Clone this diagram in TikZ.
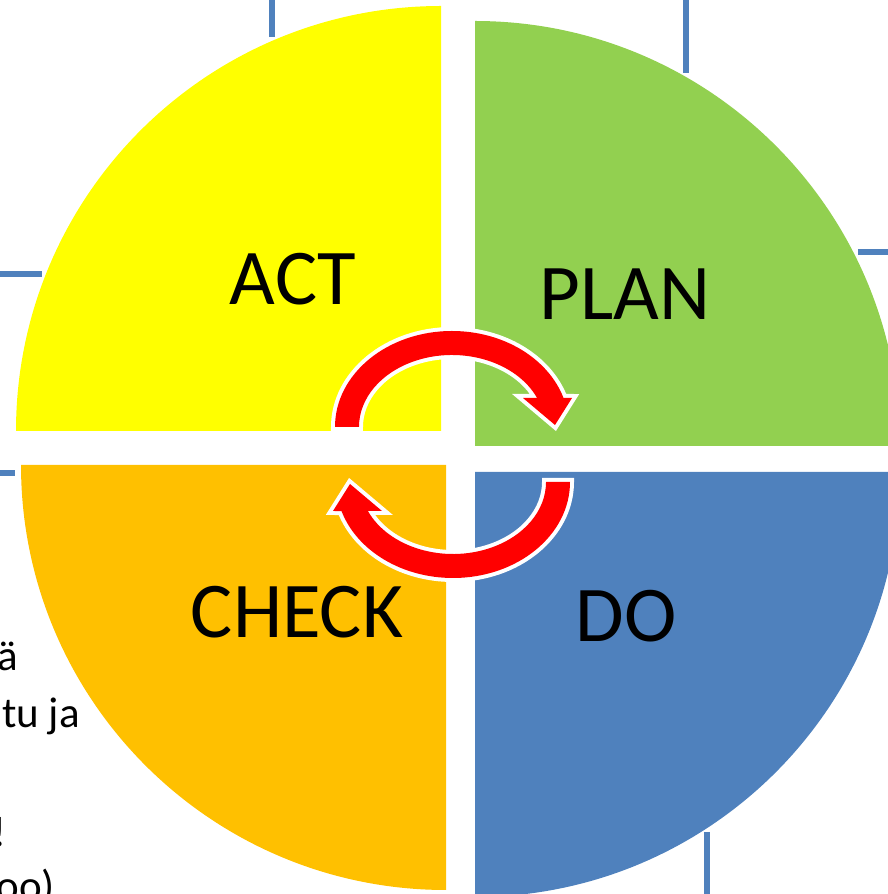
\documentclass[tikz,border=0pt]{standalone}
\usepackage{fontspec}
\setmainfont{Carlito}
\definecolor{actyellow}{HTML}{FFFF00}
\definecolor{plangreen}{HTML}{92D050}
\definecolor{checkorange}{HTML}{FFC000}
\definecolor{doblue}{HTML}{4F81BD}
\definecolor{gridblue}{HTML}{4F81BD}
\newcommand\pdcaArrowPath{(335,467) arc[start angle=180,end angle=17.6,x radius=117pt,y radius=96pt] -- (572,496) -- (555,469) -- (523,496) -- (537.1,496) arc[start angle=23.75,end angle=180,x radius=93pt,y radius=72pt] -- cycle}
\begin{document}
\begin{tikzpicture}[x=1pt,y=1pt,
  gridline/.style={draw=gridblue,line width=5.5pt},
  bigword/.style={font=\fontsize{79}{90}\selectfont, inner sep=0pt, anchor=base, text=black},
  sideword/.style={font=\fontsize{43}{50}\selectfont, inner sep=0pt, anchor=base east, text=black},
  cyclearrow/.style={fill=red, preaction={draw=white,line width=8pt,line join=miter}}]
\useasboundingbox (0,0) rectangle (888,894);
\clip (0,0) rectangle (888,894);
% background grid fragments
\draw[gridline] (272,894) -- (272,857);
\draw[gridline] (686,894) -- (686,821);
\draw[gridline] (0,620) -- (42,620);
\draw[gridline] (0,421) -- (15,421);
\draw[gridline] (858,642) -- (888,642);
\draw[gridline] (707,62) -- (707,0);
% quarters
\fill[actyellow] (441,463) -- (441,888) arc[start angle=90,end angle=180,radius=425pt] -- cycle;
\fill[plangreen] (475,448) -- (900,448) arc[start angle=0,end angle=90,radius=425pt] -- cycle;
\fill[checkorange] (446,429) -- (21,429) arc[start angle=180,end angle=270,radius=425pt] -- cycle;
\fill[doblue] (475,422) -- (475,-3) arc[start angle=270,end angle=360,radius=425pt] -- cycle;
% cycle arrows
\path[cyclearrow] \pdcaArrowPath;
\path[cyclearrow, rotate around={180:(452.5,439.5)}] \pdcaArrowPath;
% labels
\node[bigword] (act) at (293,589) {ACT};
\node[bigword] (plan) at (625,574) {PLAN};
\node[bigword] (check) at (297,256) {CHECK};
\node[bigword] (do) at (626,252) {DO};
% cut-off side text (cut off at the edge as in the reference)
\node[sideword] (s1) at (18,223) {ä};
\node[sideword] (s2) at (80,166) {tu ja};
\node[sideword] (s3) at (7,47) {!};
\node[sideword] (s4) at (55,-6) {oo)};
\end{tikzpicture}
\end{document}
